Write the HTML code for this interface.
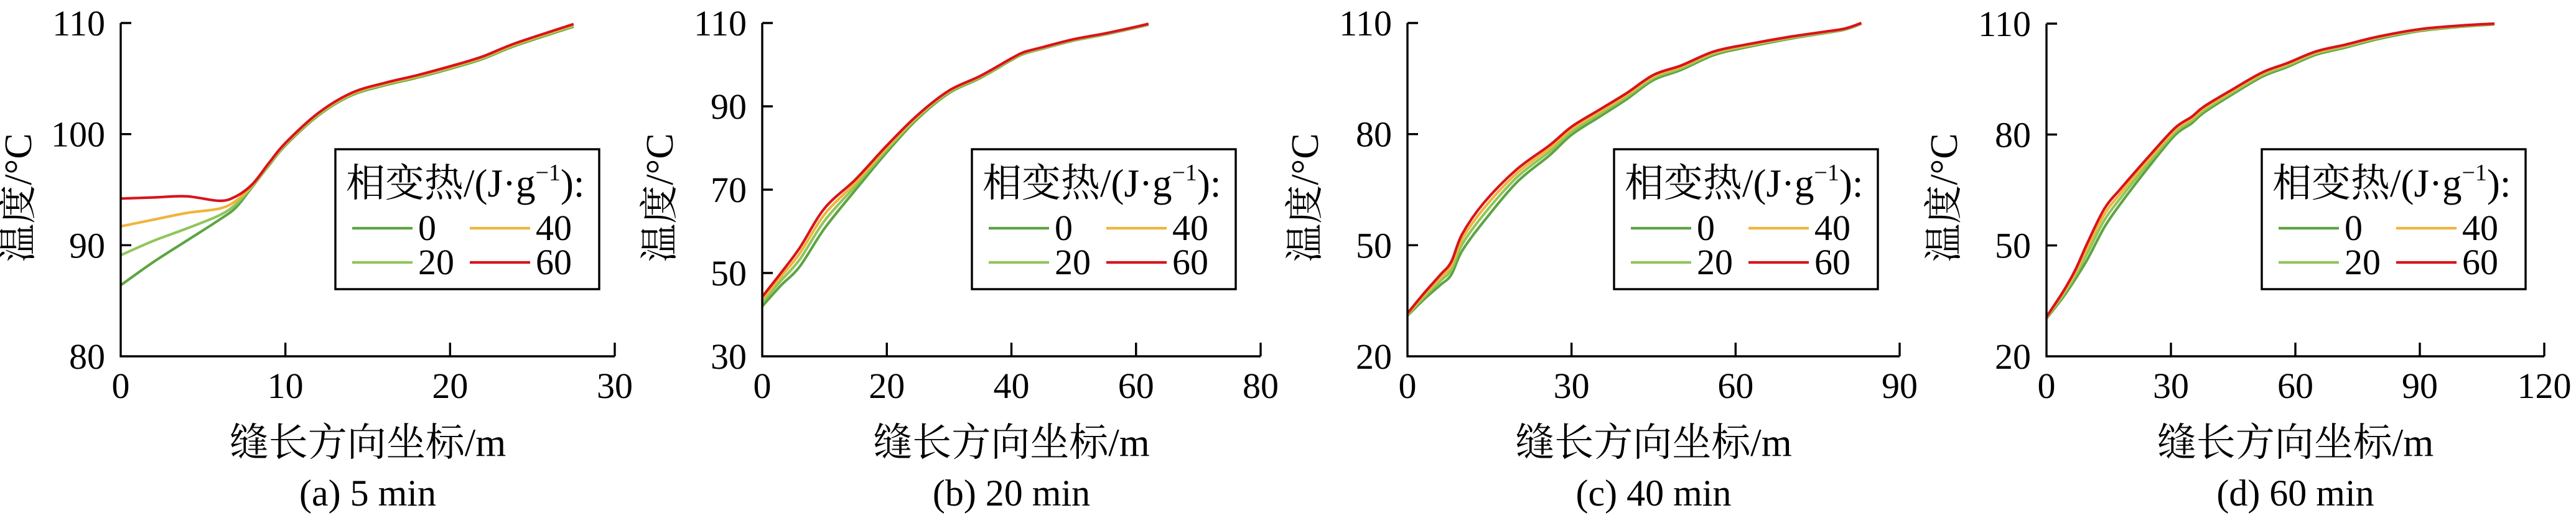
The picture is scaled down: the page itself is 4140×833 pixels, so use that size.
<!DOCTYPE html>
<html><head><meta charset="utf-8"><style>
html,body{margin:0;padding:0;background:#fff;}
svg{display:block;}
</style></head><body>
<svg id="s" width="4140" height="833" viewBox="0 0 4140 833" xmlns="http://www.w3.org/2000/svg" font-family="'Liberation Serif', 'Noto Serif CJK SC', serif"></svg>
<script>
const S=document.getElementById('s');
let out='';
const FF=`font-family="Liberation Serif, Noto Serif CJK SC, serif" style="font-family:'Liberation Serif','Noto Serif CJK SC',serif"`;
const COL={g:'#5ea442',lg:'#8fc65c',y:'#f0b43c',r:'#d7141c'};
function interp(pts,x){ if(x<=pts[0][0])return pts[0][1]; for(let i=1;i<pts.length;i++){if(x<=pts[i][0]){const a=pts[i-1],b=pts[i];return a[1]+(b[1]-a[1])*(x-a[0])/(b[0]-a[0]);}} return pts[pts.length-1][1];}
function smooth(p){let d='M'+p[0][0].toFixed(1)+','+p[0][1].toFixed(1);
 for(let i=0;i<p.length-1;i++){const p0=p[Math.max(0,i-1)],p1=p[i],p2=p[i+1],p3=p[Math.min(p.length-1,i+2)];
 const c1x=p1[0]+(p2[0]-p0[0])/6,c1y=p1[1]+(p2[1]-p0[1])/6,c2x=p2[0]-(p3[0]-p1[0])/6,c2y=p2[1]-(p3[1]-p1[1])/6;
 d+=' C'+c1x.toFixed(1)+','+c1y.toFixed(1)+' '+c2x.toFixed(1)+','+c2y.toFixed(1)+' '+p2[0].toFixed(1)+','+p2[1].toFixed(1);}return d;}
function T(x,y,size,anchor,content,extra=''){return `<text ${FF} x="${x}" y="${y}" font-size="${size}" text-anchor="${anchor}" ${extra}>${content}</text>`;}
function panel(o){
 const {x0,x1,xmax,xstep,ymin,ymax,ystep,yt=37,yb=573,lx,cap}=o;
 const X=v=>x0+(x1-x0)*v/xmax, Y=v=>yb-(yb-yt)*(v-ymin)/(ymax-ymin);
 for(const k of ['g','lg','y','r']){
  const p=o.curves[k].map(q=>[X(q[0]),Y(q[1])]);
  out+=`<path d="${smooth(p)}" fill="none" stroke="${COL[k]}" stroke-width="4.2" stroke-linejoin="round"/>`;
 }
 out+=`<path d="M${x0},${yt} V${yb} H${x1}" fill="none" stroke="#000" stroke-width="3.4"/>`;
 for(let v=ymin;v<=ymax+1e-6;v+=ystep){const y=Y(v);
  if(v>ymin) out+=`<line x1="${x0}" y1="${y}" x2="${x0+17}" y2="${y}" stroke="#000" stroke-width="3.4"/>`;
  out+=T(x0-25,y+20,58,'end',v);}
 for(let v=0;v<=xmax+1e-6;v+=xstep){const x=X(v);
  if(v>0) out+=`<line x1="${x}" y1="${yb}" x2="${x}" y2="${yb-22}" stroke="#000" stroke-width="3.4"/>`;
  out+=T(x,640,58,'middle',v);}
 const cx=(x0+x1)/2;
 out+=T(cx,733,63,'middle','缝长方向坐标/m');
 out+=T(cx,813,60,'middle',cap);
 out+=`<text ${FF} transform="translate(${x0-164},318) rotate(-90)" font-size="62" text-anchor="middle" dominant-baseline="central">温度/°C</text>`;
 out+=`<rect x="${lx}" y="240" width="424" height="225" fill="#fff" stroke="#000" stroke-width="3.4"/>`;
 out+=T(lx+17,316,63,'start',`相变热/(J·g<tspan font-size="38" dy="-26">−1</tspan><tspan dy="26">):</tspan>`);
 const L=[['g','0',27,367],['y','40',216,367],['lg','20',27,422],['r','60',216,422]];
 for(const [k,t,dx,y] of L){
  out+=`<line x1="${lx+dx}" y1="${y}" x2="${lx+dx+97}" y2="${y}" stroke="${COL[k]}" stroke-width="4.2"/>`;
  out+=T(lx+dx+106,y+19,58,'start',t);}
}
function fam(red,goff,xs){
 const c={r:red};
 for(const [k,m] of [['g',1],['lg',0.62],['y',0.3]]){c[k]=xs.map(x=>[x,interp(red,x)-m*interp(goff,x)]);}
 return c;}
const aR=[[0,94.2],[2,94.3],[4,94.4],[6,94.0],[7,94.4],[8,95.5],[9,97.4],[10,99.2],[12,101.9],[14,103.7],[16,104.6],[18,105.3],[20,106.1],[22,107.0],[24,108.2],[27.5,109.9]];
const tail=aR.slice(5);
panel({x0:194,x1:988,xmax:30,xstep:10,ymin:80,ymax:110,ystep:10,lx:539,cap:'(a) 5 min',
 curves:{r:aR,
  y:[[0,91.7],[2,92.3],[4,92.9],[6,93.3],[7,94.0]].concat(tail.map(p=>[p[0],p[1]-0.08])),
  lg:[[0,89.1],[2,90.4],[4,91.5],[6,92.7],[7,93.7]].concat(tail.map(p=>[p[0],p[1]-0.15])),
  g:[[0,86.4],[2,88.5],[4,90.4],[6,92.3],[7,93.4]].concat(tail.map(p=>[p[0],p[1]-0.22]))}});
const bR=[[0,44.3],[3,50],[6,56],[10,65.5],[15,72.5],[20,80.6],[25,88],[30,93.8],[35,97.3],[40,101.5],[42,103],[45,104.2],[50,106.1],[55,107.5],[60,109.1],[62,109.8]];
panel({x0:1225,x1:2026,xmax:80,xstep:20,ymin:30,ymax:110,ystep:20,lx:1562,cap:'(b) 20 min',
 curves:fam(bR,[[0,2.3],[3,3],[6,4.5],[8,5],[10,4.8],[15,2.5],[20,1.6],[25,0.9],[30,0.6],[40,0.4],[62,0.2]],bR.map(p=>p[0]))});
const cR=[[0,31.6],[3,37],[6,42],[8,45.5],[10,53],[14,61.5],[20,70.5],[26,77],[30,82],[35,86.5],[40,91],[45,96],[50,98.5],[56,102.3],[62,104.2],[70,106.3],[76,107.6],[80,108.5],[83,110]];
panel({x0:2262,x1:3053,xmax:90,xstep:30,ymin:20,ymax:110,ystep:30,lx:2594,cap:'(c) 40 min',
 curves:fam(cR,[[0,0.6],[4,2],[8,3.5],[11,5],[14,5],[20,3.5],[30,2.2],[45,1.4],[60,0.8],[83,0.2]],cR.map(p=>p[0]))});
const dR=[[0,30.7],[4,37.5],[7,43.5],[10,51],[14,60],[18,65.5],[25,74.5],[31,81.8],[35,84.8],[38,87.6],[45,92.3],[52,96.8],[58,99.3],[65,102.5],[72,104.3],[80,106.5],[90,108.5],[100,109.5],[108,110]];
panel({x0:3289,x1:4089,xmax:120,xstep:30,ymin:20,ymax:110,ystep:30,yt:38,lx:3635,cap:'(d) 60 min',
 curves:fam(dR,[[0,0.5],[4,1.5],[7,2.5],[10,4.5],[14,5],[20,3.5],[30,2],[45,1.3],[65,0.9],[108,0.2]],dR.map(p=>p[0]))});
S.innerHTML=out;
</script>
</body></html>
